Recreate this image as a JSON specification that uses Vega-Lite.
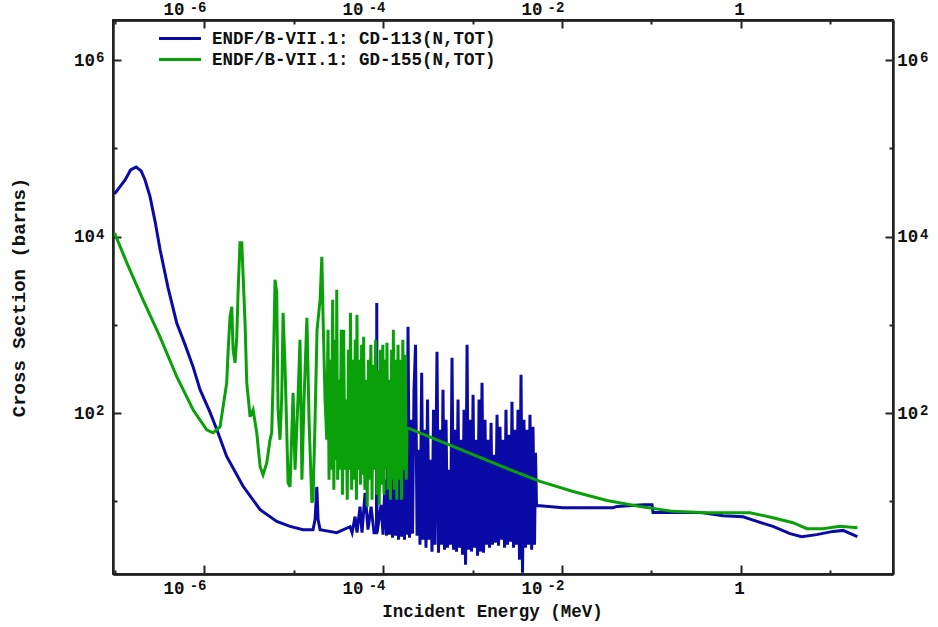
{
"$schema": "https://vega.github.io/schema/vega-lite/v6.json",
"width": 780, "height": 554,
"autosize": {"type": "none"},
"padding": {"left": 113, "top": 20, "right": 45, "bottom": 53},
"background": "white",
"config": {
  "view": {"stroke": "#222", "strokeWidth": 2},
  "axis": {"labelFont": "Liberation Mono", "labelFontSize": 17.5, "labelFontWeight": "bold", "labelColor": "#111",
    "titleFont": "Liberation Mono", "titleFontSize": 17.5, "titleFontWeight": "bold", "titleColor": "#111",
    "domainColor": "#222", "domainWidth": 2, "tickColor": "#222", "tickWidth": 2, "grid": false, "labelFlush": false, "labelOverlap": false}
},
"data": {"values": [
{"s":"CD-113","E":1e-7,"xs":30500},{"s":"CD-113","E":1.31e-7,"xs":43800},{"s":"CD-113","E":1.51e-7,"xs":56900},{"s":"CD-113","E":1.74e-7,"xs":61500},{"s":"CD-113","E":1.98e-7,"xs":55500},{"s":"CD-113","E":2.19e-7,"xs":43800},{"s":"CD-113","E":2.49e-7,"xs":28400},{"s":"CD-113","E":2.84e-7,"xs":14700},{"s":"CD-113","E":3.23e-7,"xs":7060},{"s":"CD-113","E":3.96e-7,"xs":2620},{"s":"CD-113","E":4.95e-7,"xs":1050},{"s":"CD-113","E":6.14e-7,"xs":593},{"s":"CD-113","E":7.54e-7,"xs":334},{"s":"CD-113","E":9.02e-7,"xs":184},{"s":"CD-113","E":1.17e-6,"xs":101},{"s":"CD-113","E":1.39e-6,"xs":64.7},{"s":"CD-113","E":1.79e-6,"xs":32.2},{"s":"CD-113","E":2.73e-6,"xs":14.8},{"s":"CD-113","E":4.23e-6,"xs":8.04},{"s":"CD-113","E":6.49e-6,"xs":5.92},{"s":"CD-113","E":9.14e-6,"xs":5.2},{"s":"CD-113","E":1.28e-5,"xs":4.77},{"s":"CD-113","E":1.65e-5,"xs":4.77},{"s":"CD-113","E":1.74e-5,"xs":6.2},{"s":"CD-113","E":1.82e-5,"xs":14.6},{"s":"CD-113","E":1.88e-5,"xs":6.2},{"s":"CD-113","E":1.98e-5,"xs":4.77},{"s":"CD-113","E":3.04e-5,"xs":4.41},{"s":"CD-113","E":4.28e-5,"xs":5.15},{"s":"CD-113","E":4.51e-5,"xs":4.41},{"s":"CD-113","E":4.87e-5,"xs":6.7},{"s":"CD-113","E":5.12e-5,"xs":4.41},{"s":"CD-113","E":5.53e-5,"xs":8.69},{"s":"CD-113","E":5.82e-5,"xs":4.41},{"s":"CD-113","E":6.3e-5,"xs":12.5},{"s":"CD-113","E":6.79e-5,"xs":4.77},{"s":"CD-113","E":7.35e-5,"xs":8.69},{"s":"CD-113","E":7.93e-5,"xs":4.41},{"s":"CD-113","E":8.45e-5,"xs":4.41},{"s":"CD-113","E":8.51e-5,"xs":1770},{"s":"CD-113","E":8.57e-5,"xs":4.41},{"s":"CD-113","E":9.51e-5,"xs":9.14},{"s":"CD-113","E":1.0e-4,"xs":4.19},
{"s":"CD-113","E":1.052e-4,"xs":17.6},{"s":"CD-113","E":1.094e-4,"xs":4.08},{"s":"CD-113","E":1.137e-4,"xs":49.8},{"s":"CD-113","E":1.183e-4,"xs":4.19},{"s":"CD-113","E":1.228e-4,"xs":22.8},{"s":"CD-113","E":1.277e-4,"xs":3.87},{"s":"CD-113","E":1.327e-4,"xs":84},{"s":"CD-113","E":1.38e-4,"xs":4.08},{"s":"CD-113","E":1.432e-4,"xs":33.7},{"s":"CD-113","E":1.489e-4,"xs":3.67},{"s":"CD-113","E":1.549e-4,"xs":142},{"s":"CD-113","E":1.611e-4,"xs":3.97},{"s":"CD-113","E":1.671e-4,"xs":43.7},{"s":"CD-113","E":1.738e-4,"xs":3.67},{"s":"CD-113","E":1.807e-4,"xs":238},{"s":"CD-113","E":1.854e-4,"xs":4.19},{"s":"CD-113","E":1.902e-4,"xs":949},{"s":"CD-113","E":1.977e-4,"xs":3.87},{"s":"CD-113","E":2.056e-4,"xs":84},{"s":"CD-113","E":2.138e-4,"xs":4.3},{"s":"CD-113","E":2.218e-4,"xs":184},{"s":"CD-113","E":2.307e-4,"xs":594},{"s":"CD-113","E":2.399e-4,"xs":4.08},{"s":"CD-113","E":2.495e-4,"xs":38.4},{"s":"CD-113","E":2.588e-4,"xs":3.22},{"s":"CD-113","E":2.704e-4,"xs":286},{"s":"CD-113","E":2.799e-4,"xs":3.67},{"s":"CD-113","E":2.911e-4,"xs":64.7},{"s":"CD-113","E":3.02e-4,"xs":2.98},{"s":"CD-113","E":3.141e-4,"xs":142},{"s":"CD-113","E":3.266e-4,"xs":3.67},{"s":"CD-113","E":3.396e-4,"xs":29.6},{"s":"CD-113","E":3.524e-4,"xs":2.69},{"s":"CD-113","E":3.664e-4,"xs":109},{"s":"CD-113","E":3.811e-4,"xs":3.22},{"s":"CD-113","E":4.009e-4,"xs":495},{"s":"CD-113","E":4.169e-4,"xs":2.62},{"s":"CD-113","E":4.335e-4,"xs":64.7},{"s":"CD-113","E":4.508e-4,"xs":3.22},{"s":"CD-113","E":4.677e-4,"xs":184},{"s":"CD-113","E":4.864e-4,"xs":2.83},{"s":"CD-113","E":5.058e-4,"xs":84},{"s":"CD-113","E":5.26e-4,"xs":2.98},{"s":"CD-113","E":5.458e-4,"xs":22.8},{"s":"CD-113","E":5.675e-4,"xs":3.22},{"s":"CD-113","E":5.902e-4,"xs":424},{"s":"CD-113","E":6.138e-4,"xs":2.83},{"s":"CD-113","E":6.368e-4,"xs":64.7},{"s":"CD-113","E":6.622e-4,"xs":2.69},{"s":"CD-113","E":6.887e-4,"xs":142},{"s":"CD-113","E":7.161e-4,"xs":2.98},{"s":"CD-113","E":7.447e-4,"xs":49.8},{"s":"CD-113","E":7.727e-4,"xs":2.48},{"s":"CD-113","E":8.035e-4,"xs":109},{"s":"CD-113","E":8.356e-4,"xs":1.91},{"s":"CD-113","E":8.69e-4,"xs":594},{"s":"CD-113","E":9.016e-4,"xs":2.83},{"s":"CD-113","E":9.376e-4,"xs":84},{"s":"CD-113","E":9.75e-4,"xs":2.69},{"s":"CD-113","E":1.014e-3,"xs":161},{"s":"CD-113","E":1.052e-3,"xs":2.98},{"s":"CD-113","E":1.094e-3,"xs":49.8},{"s":"CD-113","E":1.138e-3,"xs":2.42},{"s":"CD-113","E":1.183e-3,"xs":142},{"s":"CD-113","E":1.228e-3,"xs":2.69},{"s":"CD-113","E":1.277e-3,"xs":220},{"s":"CD-113","E":1.327e-3,"xs":2.62},{"s":"CD-113","E":1.38e-3,"xs":84},{"s":"CD-113","E":1.432e-3,"xs":3.22},{"s":"CD-113","E":1.489e-3,"xs":49.8},{"s":"CD-113","E":1.549e-3,"xs":2.98},{"s":"CD-113","E":1.611e-3,"xs":77.6},{"s":"CD-113","E":1.671e-3,"xs":3.22},{"s":"CD-113","E":1.738e-3,"xs":33.7},{"s":"CD-113","E":1.807e-3,"xs":3.4},{"s":"CD-113","E":1.879e-3,"xs":95.7},{"s":"CD-113","E":1.954e-3,"xs":3.14},{"s":"CD-113","E":2.028e-3,"xs":70},{"s":"CD-113","E":2.109e-3,"xs":3.67},{"s":"CD-113","E":2.193e-3,"xs":49.8},{"s":"CD-113","E":2.28e-3,"xs":2.98},{"s":"CD-113","E":2.366e-3,"xs":109},{"s":"CD-113","E":2.46e-3,"xs":3.22},{"s":"CD-113","E":2.559e-3,"xs":56.8},{"s":"CD-113","E":2.661e-3,"xs":3.49},{"s":"CD-113","E":2.761e-3,"xs":134},{"s":"CD-113","E":2.871e-3,"xs":2.98},{"s":"CD-113","E":2.985e-3,"xs":64.7},{"s":"CD-113","E":3.105e-3,"xs":3.22},{"s":"CD-113","E":3.221e-3,"xs":109},{"s":"CD-113","E":3.35e-3,"xs":2.18},{"s":"CD-113","E":3.483e-3,"xs":272},{"s":"CD-113","E":3.622e-3,"xs":1.55},{"s":"CD-113","E":3.758e-3,"xs":84},{"s":"CD-113","E":3.908e-3,"xs":2.98},{"s":"CD-113","E":4.064e-3,"xs":64.7},{"s":"CD-113","E":4.227e-3,"xs":3.22},{"s":"CD-113","E":4.385e-3,"xs":95.7},{"s":"CD-113","E":4.581e-3,"xs":2.83},{"s":"CD-113","E":4.742e-3,"xs":70},{"s":"CD-113","E":4.932e-3,"xs":3.22},{"s":"CD-113","E":5.058e-3,"xs":35.5},{"s":"CD-113","E":5.19e-3,"xs":8.91},
{"s":"CD-113","E":5.675e-3,"xs":8.91},{"s":"CD-113","E":1.026e-2,"xs":8.46},{"s":"CD-113","E":3.715e-2,"xs":8.46},{"s":"CD-113","E":4.12e-2,"xs":8.75},{"s":"CD-113","E":8.04e-2,"xs":9.15},{"s":"CD-113","E":0.1014,"xs":9.15},{"s":"CD-113","E":0.104,"xs":7.48},{"s":"CD-113","E":0.322,"xs":7.48},{"s":"CD-113","E":0.376,"xs":7.43},{"s":"CD-113","E":0.629,"xs":6.87},{"s":"CD-113","E":1.053,"xs":6.69},{"s":"CD-113","E":1.51,"xs":5.92},{"s":"CD-113","E":2.28,"xs":5.2},{"s":"CD-113","E":3.53,"xs":4.3},{"s":"CD-113","E":4.76,"xs":3.97},{"s":"CD-113","E":7.01,"xs":4.19},{"s":"CD-113","E":10.7,"xs":4.56},{"s":"CD-113","E":13.8,"xs":4.68},{"s":"CD-113","E":20,"xs":3.97},
{"s":"GD-155","E":1e-7,"xs":11000},{"s":"GD-155","E":1.37e-7,"xs":5040},{"s":"GD-155","E":2.08e-7,"xs":1920},{"s":"GD-155","E":3.22e-7,"xs":731},{"s":"GD-155","E":4.95e-7,"xs":258},{"s":"GD-155","E":7.54e-7,"xs":109},{"s":"GD-155","E":1.07e-6,"xs":64.7},{"s":"GD-155","E":1.26e-6,"xs":59.8},{"s":"GD-155","E":1.51e-6,"xs":70},{"s":"GD-155","E":1.79e-6,"xs":220},{"s":"GD-155","E":1.86e-6,"xs":521},{"s":"GD-155","E":1.95e-6,"xs":1230},{"s":"GD-155","E":2.04e-6,"xs":1600},{"s":"GD-155","E":2.11e-6,"xs":521},{"s":"GD-155","E":2.22e-6,"xs":371},{"s":"GD-155","E":2.32e-6,"xs":731},{"s":"GD-155","E":2.4e-6,"xs":2370},{"s":"GD-155","E":2.52e-6,"xs":8490},{"s":"GD-155","E":2.64e-6,"xs":8490},{"s":"GD-155","E":2.73e-6,"xs":3680},{"s":"GD-155","E":2.87e-6,"xs":1050},{"s":"GD-155","E":3.0e-6,"xs":220},{"s":"GD-155","E":3.27e-6,"xs":90.8},{"s":"GD-155","E":3.53e-6,"xs":109},{"s":"GD-155","E":3.88e-6,"xs":59.8},{"s":"GD-155","E":4.23e-6,"xs":24.7},{"s":"GD-155","E":4.56e-6,"xs":20},{"s":"GD-155","E":5.02e-6,"xs":27.4},{"s":"GD-155","E":5.46e-6,"xs":49.8},{"s":"GD-155","E":5.7e-6,"xs":59.8},{"s":"GD-155","E":5.9e-6,"xs":220},{"s":"GD-155","E":6.21e-6,"xs":3240},{"s":"GD-155","E":6.49e-6,"xs":2300},{"s":"GD-155","E":6.71e-6,"xs":109},{"s":"GD-155","E":7.06e-6,"xs":49.8},{"s":"GD-155","E":7.38e-6,"xs":153},{"s":"GD-155","E":7.64e-6,"xs":1370},{"s":"GD-155","E":8.04e-6,"xs":334},{"s":"GD-155","E":8.69e-6,"xs":16.2},{"s":"GD-155","E":9.14e-6,"xs":14.6},{"s":"GD-155","E":9.87e-6,"xs":170},{"s":"GD-155","E":1.04e-5,"xs":22.8},{"s":"GD-155","E":1.12e-5,"xs":142},{"s":"GD-155","E":1.18e-5,"xs":676},{"s":"GD-155","E":1.24e-5,"xs":17.6},{"s":"GD-155","E":1.31e-5,"xs":142},{"s":"GD-155","E":1.41e-5,"xs":1200},{"s":"GD-155","E":1.49e-5,"xs":84},{"s":"GD-155","E":1.6e-5,"xs":9.64},{"s":"GD-155","E":1.65e-5,"xs":10.4},{"s":"GD-155","E":1.74e-5,"xs":84},{"s":"GD-155","E":1.83e-5,"xs":879},{"s":"GD-155","E":1.98e-5,"xs":1920},{"s":"GD-155","E":2.07e-5,"xs":5890},{"s":"GD-155","E":2.14e-5,"xs":1140},{"s":"GD-155","E":2.25e-5,"xs":142},
{"s":"GD-155","E":2.349e-5,"xs":49.8},{"s":"GD-155","E":2.429e-5,"xs":879},{"s":"GD-155","E":2.492e-5,"xs":17.6},{"s":"GD-155","E":2.571e-5,"xs":402},{"s":"GD-155","E":2.652e-5,"xs":22.8},{"s":"GD-155","E":2.735e-5,"xs":1920},{"s":"GD-155","E":2.82e-5,"xs":13.5},{"s":"GD-155","E":2.909e-5,"xs":676},{"s":"GD-155","E":3.0e-5,"xs":29.6},{"s":"GD-155","E":3.039e-5,"xs":2490},{"s":"GD-155","E":3.11e-5,"xs":17.6},{"s":"GD-155","E":3.207e-5,"xs":238},{"s":"GD-155","E":3.308e-5,"xs":22.8},{"s":"GD-155","E":3.412e-5,"xs":879},{"s":"GD-155","E":3.519e-5,"xs":11.9},{"s":"GD-155","E":3.629e-5,"xs":879},{"s":"GD-155","E":3.743e-5,"xs":22.8},{"s":"GD-155","E":3.861e-5,"xs":142},{"s":"GD-155","E":3.981e-5,"xs":10.4},{"s":"GD-155","E":4.106e-5,"xs":521},{"s":"GD-155","E":4.235e-5,"xs":22.8},{"s":"GD-155","E":4.324e-5,"xs":1370},{"s":"GD-155","E":4.46e-5,"xs":13.5},{"s":"GD-155","E":4.599e-5,"xs":402},{"s":"GD-155","E":4.743e-5,"xs":17.6},{"s":"GD-155","E":4.892e-5,"xs":676},{"s":"GD-155","E":5.045e-5,"xs":10.4},{"s":"GD-155","E":5.11e-5,"xs":1300},{"s":"GD-155","E":5.257e-5,"xs":22.8},{"s":"GD-155","E":5.422e-5,"xs":402},{"s":"GD-155","E":5.592e-5,"xs":15.4},{"s":"GD-155","E":5.767e-5,"xs":593},{"s":"GD-155","E":5.947e-5,"xs":20},{"s":"GD-155","E":6.071e-5,"xs":731},{"s":"GD-155","E":6.261e-5,"xs":13.5},{"s":"GD-155","E":6.457e-5,"xs":238},{"s":"GD-155","E":6.66e-5,"xs":8.69},{"s":"GD-155","E":6.868e-5,"xs":402},{"s":"GD-155","E":7.084e-5,"xs":17.6},{"s":"GD-155","E":7.305e-5,"xs":593},{"s":"GD-155","E":7.534e-5,"xs":10.4},{"s":"GD-155","E":7.77e-5,"xs":352},{"s":"GD-155","E":8.014e-5,"xs":22.8},{"s":"GD-155","E":8.265e-5,"xs":676},{"s":"GD-155","E":8.524e-5,"xs":11.9},{"s":"GD-155","E":8.792e-5,"xs":309},{"s":"GD-155","E":9.067e-5,"xs":9.14},{"s":"GD-155","E":9.352e-5,"xs":521},{"s":"GD-155","E":9.646e-5,"xs":15.4},{"s":"GD-155","E":9.949e-5,"xs":593},{"s":"GD-155","E":1.026e-4,"xs":11.9},{"s":"GD-155","E":1.058e-4,"xs":402},{"s":"GD-155","E":1.091e-4,"xs":22.8},{"s":"GD-155","E":1.106e-4,"xs":625},{"s":"GD-155","E":1.137e-4,"xs":13.5},{"s":"GD-155","E":1.173e-4,"xs":238},{"s":"GD-155","E":1.21e-4,"xs":10.4},{"s":"GD-155","E":1.248e-4,"xs":521},{"s":"GD-155","E":1.287e-4,"xs":17.6},{"s":"GD-155","E":1.304e-4,"xs":879},{"s":"GD-155","E":1.341e-4,"xs":13.5},{"s":"GD-155","E":1.383e-4,"xs":402},{"s":"GD-155","E":1.426e-4,"xs":10.4},{"s":"GD-155","E":1.471e-4,"xs":593},{"s":"GD-155","E":1.517e-4,"xs":17.6},{"s":"GD-155","E":1.564e-4,"xs":402},{"s":"GD-155","E":1.614e-4,"xs":10.4},{"s":"GD-155","E":1.664e-4,"xs":676},{"s":"GD-155","E":1.716e-4,"xs":22.8},{"s":"GD-155","E":1.77e-4,"xs":457},{"s":"GD-155","E":1.816e-4,"xs":17.6},{"s":"GD-155","E":1.854e-4,"xs":68.2},
{"s":"GD-155","E":5.61e-4,"xs":43.2},{"s":"GD-155","E":2.03e-3,"xs":25.3},{"s":"GD-155","E":5.68e-3,"xs":16.8},{"s":"GD-155","E":1.33e-2,"xs":12.9},{"s":"GD-155","E":3.18e-2,"xs":10.2},{"s":"GD-155","E":7.44e-2,"xs":8.75},{"s":"GD-155","E":0.174,"xs":7.69},{"s":"GD-155","E":0.417,"xs":7.43},{"s":"GD-155","E":1.26,"xs":7.43},{"s":"GD-155","E":2.28,"xs":6.52},{"s":"GD-155","E":3.81,"xs":5.72},{"s":"GD-155","E":5.46,"xs":4.9},{"s":"GD-155","E":8.24,"xs":4.9},{"s":"GD-155","E":12.8,"xs":5.2},{"s":"GD-155","E":20,"xs":5.02}
]},
"resolve": {"axis": {"x": "independent", "y": "independent"}},
"layer": [
  {"mark": {"type": "line", "strokeWidth": 3, "clip": true},
   "encoding": {
     "x": {"field": "E", "type": "quantitative", "scale": {"type": "log", "domain": [9.6e-8, 50], "nice": false},
       "axis": {"orient": "bottom", "values": [1e-6, 1e-4, 1e-2], "tickSize": -9, "labelPadding": 14, "labelOffset": -30.5, "labelAlign": "center",
         "labelExpr": "'10'", "title": "Incident Energy (MeV)", "titlePadding": 6, "titleX": 379, "titleAlign": "center"}},
     "y": {"field": "xs", "type": "quantitative", "scale": {"type": "log", "domain": [1.5, 2.85e6], "nice": false},
       "axis": {"orient": "left", "values": [100, 10000, 1000000], "tickSize": -8, "labelPadding": 26.5, "labelAlign": "right", "labelBaseline": "middle",
         "labelExpr": "'10'", "title": "Cross Section (barns)", "titleFontSize": 19, "titlePadding": 45}},
     "color": {"field": "s", "type": "nominal",
       "scale": {"domain": ["CD-113", "GD-155"], "range": ["#0a0aa6", "#0aa00a"]},
       "legend": {"orient": "none", "legendX": 55, "legendY": 6.5, "title": null, "padding": 0,
         "symbolType": "M-2,0H2", "symbolSize": 441, "symbolStrokeWidth": 3, "labelOffset": 20, "rowPadding": 0,
         "labelFont": "Liberation Mono", "labelFontSize": 17.5, "labelFontWeight": "bold", "labelColor": "#111", "labelLimit": 500,
         "labelExpr": "'ENDF/B-VII.1: ' + datum.label + '(N,TOT)'"}}
   }},
  {"mark": {"type": "point", "opacity": 0},
   "encoding": {
     "x": {"field": "E", "type": "quantitative",
       "axis": {"orient": "top", "values": [1e-6, 1e-4, 1e-2], "tickSize": -8, "labelPadding": 9.3, "labelOffset": -30.5, "labelAlign": "center",
         "labelExpr": "'10'", "title": null}},
     "y": {"field": "xs", "type": "quantitative",
       "axis": {"orient": "right", "values": [100, 10000, 1000000], "tickSize": -8, "labelPadding": 11.7, "labelAlign": "left", "labelBaseline": "middle",
         "labelExpr": "'10'", "title": null}}
   }},
  {"mark": {"type": "point", "opacity": 0},
   "encoding": {
     "x": {"field": "E", "type": "quantitative",
       "axis": {"orient": "bottom", "values": [1e-6, 1e-4, 1e-2], "ticks": false, "domain": false, "labelPadding": 4.2, "labelFontSize": 14, "labelOffset": -6.5, "labelAlign": "center",
         "labelExpr": "datum.value < 5e-6 ? '-6' : datum.value < 5e-4 ? '-4' : '-2'", "title": null}},
     "y": {"field": "xs", "type": "quantitative",
       "axis": {"orient": "left", "values": [100, 10000, 1000000], "ticks": false, "domain": false, "labelPadding": 9, "labelFontSize": 14, "labelOffset": -2.5, "labelAlign": "right", "labelBaseline": "middle",
         "labelExpr": "datum.value < 1e3 ? '2' : datum.value < 1e5 ? '4' : '6'", "title": null}}
   }},
  {"mark": {"type": "point", "opacity": 0},
   "encoding": {
     "x": {"field": "E", "type": "quantitative",
       "axis": {"orient": "top", "values": [1e-6, 1e-4, 1e-2], "ticks": false, "domain": false, "labelPadding": 5.4, "labelFontSize": 14, "labelOffset": -6.5, "labelAlign": "center",
         "labelExpr": "datum.value < 5e-6 ? '-6' : datum.value < 5e-4 ? '-4' : '-2'", "title": null}},
     "y": {"field": "xs", "type": "quantitative",
       "axis": {"orient": "right", "values": [100, 10000, 1000000], "ticks": false, "domain": false, "labelPadding": 26.5, "labelFontSize": 14, "labelOffset": -2.5, "labelAlign": "left", "labelBaseline": "middle",
         "labelExpr": "datum.value < 1e3 ? '2' : datum.value < 1e5 ? '4' : '6'", "title": null}}
   }},
  {"mark": {"type": "point", "opacity": 0},
   "encoding": {
     "x": {"field": "E", "type": "quantitative",
       "axis": {"orient": "bottom", "values": [1], "tickSize": -9, "labelPadding": 14, "labelOffset": -2, "labelAlign": "center", "labelExpr": "'1'", "title": null}},
     "y": {"field": "xs", "type": "quantitative",
       "axis": {"orient": "left", "values": [10, 1000, 100000], "tickSize": -4, "labels": false, "title": null}}
   }},
  {"mark": {"type": "point", "opacity": 0},
   "encoding": {
     "x": {"field": "E", "type": "quantitative",
       "axis": {"orient": "top", "values": [1], "tickSize": -8, "labelPadding": 9.3, "labelOffset": -2, "labelAlign": "center", "labelExpr": "'1'", "title": null}},
     "y": {"field": "xs", "type": "quantitative",
       "axis": {"orient": "right", "values": [10, 1000, 100000], "tickSize": -4, "labels": false, "title": null}}
   }},
  {"mark": {"type": "point", "opacity": 0},
   "encoding": {
     "x": {"field": "E", "type": "quantitative",
       "axis": {"orient": "bottom", "values": [1e-7, 1e-5, 1e-3, 0.1, 10], "tickSize": -4, "labels": false, "title": null}},
     "y": {"field": "xs", "type": "quantitative", "axis": null}
   }},
  {"mark": {"type": "point", "opacity": 0},
   "encoding": {
     "x": {"field": "E", "type": "quantitative",
       "axis": {"orient": "top", "values": [1e-7, 1e-5, 1e-3, 0.1, 10], "tickSize": -4, "labels": false, "title": null}},
     "y": {"field": "xs", "type": "quantitative", "axis": null}
   }}
]
}
